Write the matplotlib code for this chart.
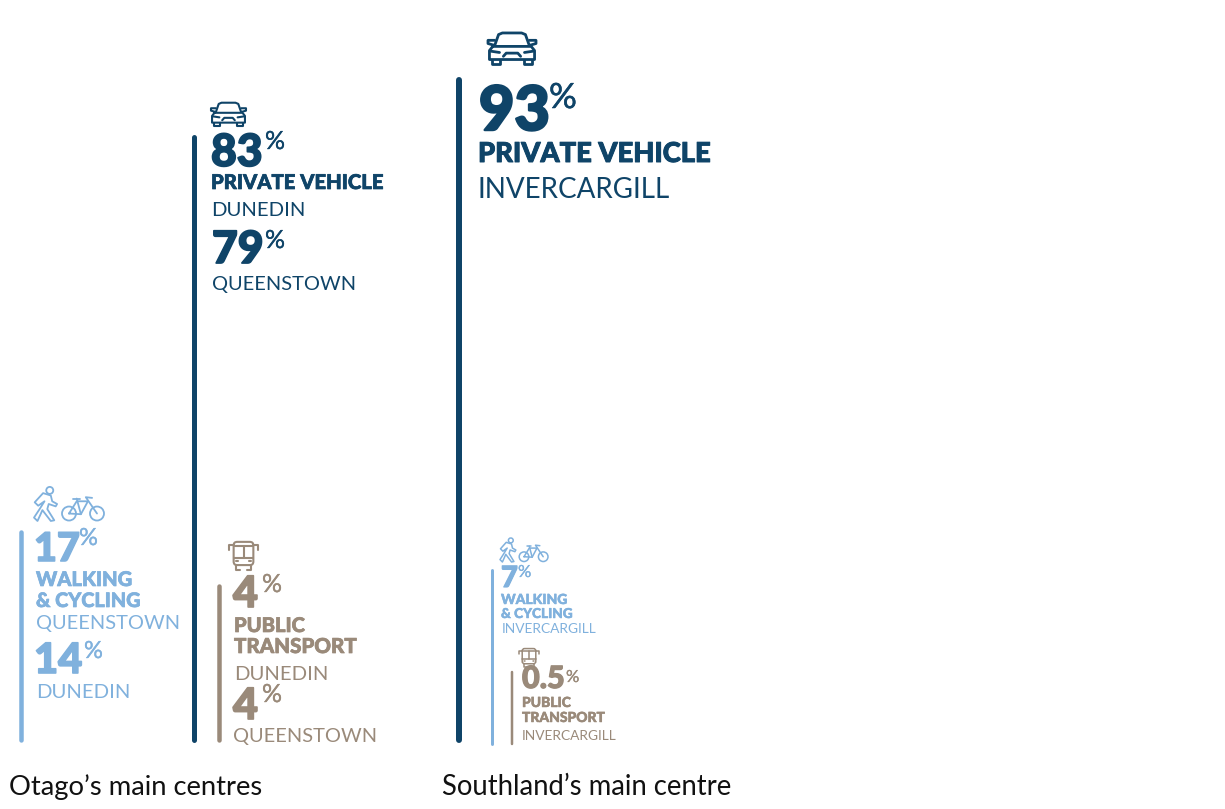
import numpy as np
import matplotlib
matplotlib.use('Agg')
import matplotlib.pyplot as plt
import matplotlib.patheffects as pe
from matplotlib.patches import Circle, FancyBboxPatch, Polygon
from matplotlib.transforms import ScaledTranslation

plt.rcParams['font.family'] = ['Lato', 'DejaVu Sans']

# share of trips by mode, in percent
otago_walk = [17, 14]        # Queenstown, Dunedin
otago_car = [83, 79]         # Dunedin, Queenstown
otago_bus = [4, 4]           # Dunedin, Queenstown
south_car = [93]             # Invercargill
south_walk = [7]
south_bus = [0.5]

captions = ["Otago\u2019s main centres", "Southland\u2019s main centre"]

# the bars are not linear in value, this is the length (pixels) each value gets
scale_values = [0, 0.5, 4, 7, 17, 83, 93, 100]
scale_lengths = [0, 72, 154, 174, 208, 603, 660, 698]

DARK = '#0f4468'
LIGHT = '#80b1dd'
BROWN = '#9a8a7a'

W, H = 1225, 809
fig = plt.figure(figsize=(W / 100, H / 100), dpi=100)

BASE = 740
bars = fig.add_axes([0, (H - BASE) / H, 1, 698 / H])
bars.set_xlim(0, W)
bars.set_yscale('function', functions=(
    lambda v: np.interp(v, scale_values, scale_lengths),
    lambda p: np.interp(p, scale_lengths, scale_values)))
bars.set_ylim(0, 100)
bars.axis('off')

# text and icons go on a plain pixel layer
ax = fig.add_axes([0, 0, 1, 1])
ax.set_xlim(0, W)
ax.set_ylim(H, 0)
ax.axis('off')
ax.patch.set_alpha(0)


def bar(x, value, color, width, drop=0):
    tr = bars.transData + ScaledTranslation(0, -drop / 100, fig.dpi_scale_trans)
    bars.plot([x, x], [0, value], color=color, lw=width * 0.72,
              solid_capstyle='round', transform=tr, clip_on=False)


def txt(x, y, s, size, color, weight='normal', thick=0):
    t = ax.text(x, y, s, fontsize=size, color=color, fontweight=weight,
                ha='left', va='baseline')
    if thick:
        t.set_path_effects([pe.withStroke(linewidth=thick, foreground=color)])


def head(x, y, s, size, color):
    txt(x, y, s, size, color, 'black', thick=size * 0.035)


def num(x, y, value, size, color, px, py, psize):
    txt(x, y, f'{value:g}', size, color, 'black', thick=size * 0.04)
    txt(px, py, '%', psize, color, thick=psize * 0.015)


def line(pts, x, y, w, h, color, lw):
    pts = np.array(pts, dtype=float)
    ax.plot(x + pts[:, 0] * w, y + pts[:, 1] * h, color=color, lw=lw,
            solid_capstyle='round', solid_joinstyle='round')


def car(x, y, w, h, color, lw):
    line([(.14, .42), (.22, .08), (.3, .03), (.7, .03), (.78, .08), (.86, .42)], x, y, w, h, color, lw)
    line([(.1, .45), (.9, .45), (.97, .58), (.97, .86), (.03, .86), (.03, .58), (.1, .45)], x, y, w, h, color, lw)
    line([(.14, .42), (0, .36), (0, .26), (.14, .26)], x, y, w, h, color, lw)
    line([(.86, .42), (1, .36), (1, .26), (.86, .26)], x, y, w, h, color, lw)
    line([(.06, .6), (.24, .64)], x, y, w, h, color, lw)
    line([(.94, .6), (.76, .64)], x, y, w, h, color, lw)
    line([(.32, .76), (.38, .66), (.62, .66), (.68, .76)], x, y, w, h, color, lw)
    line([(.08, .86), (.08, 1), (.26, 1), (.26, .86)], x, y, w, h, color, lw)
    line([(.74, .86), (.74, 1), (.92, 1), (.92, .86)], x, y, w, h, color, lw)


def bus(x, y, w, h, color, lw):
    ax.add_patch(FancyBboxPatch((x + .16 * w, y + .03 * h), .68 * w, .8 * h,
                                boxstyle=f'round,pad=0,rounding_size={.12 * w}',
                                fc='none', ec=color, lw=lw))
    line([(.16, .58), (.84, .58)], x, y, w, h, color, lw)
    line([(.5, .16), (.5, .58)], x, y, w, h, color, lw)
    line([(.16, .16), (.84, .16)], x, y, w, h, color, lw)
    line([(0, .3), (0, .14), (.16, .14)], x, y, w, h, color, lw)
    line([(1, .3), (1, .14), (.84, .14)], x, y, w, h, color, lw)
    line([(.25, .83), (.25, 1), (.38, 1)], x, y, w, h, color, lw)
    line([(.75, .83), (.75, 1), (.62, 1)], x, y, w, h, color, lw)
    line([(.25, .7), (.32, .7)], x, y, w, h, color, lw)
    line([(.68, .7), (.75, .7)], x, y, w, h, color, lw)


def walker_bike(x, y, w, h, color, lw):
    # walker outline on the left, bicycle on the right
    walker = np.array([(.01, .45), (.13, .18), (.24, .25), (.26, .42), (.33, .5),
                       (.31, .57), (.21, .5), (.19, .65), (.29, .98), (.24, 1),
                       (.12, .68), (.09, .82), (.05, 1), (0, .9), (.08, .65),
                       (.15, .42), (.06, .55)])
    ax.add_patch(Polygon(np.c_[x + walker[:, 0] * w, y + walker[:, 1] * h],
                         closed=True, fc='none', ec=color, lw=lw, joinstyle='round'))
    ax.add_patch(Circle((x + .225 * w, y + .1 * h), .05 * w, fc='none', ec=color, lw=lw))
    rb = .1 * w
    ax.add_patch(Circle((x + .5 * w, y + .78 * h), rb, fc='none', ec=color, lw=lw))
    ax.add_patch(Circle((x + .9 * w, y + .78 * h), rb, fc='none', ec=color, lw=lw))
    line([(.5, .78), (.61, .42), (.77, .42), (.67, .8), (.5, .78)], x, y, w, h, color, lw)
    line([(.61, .34), (.67, .8)], x, y, w, h, color, lw)
    line([(.56, .34), (.65, .34)], x, y, w, h, color, lw)
    line([(.9, .78), (.74, .3), (.83, .32)], x, y, w, h, color, lw)


# Otago - walking and cycling
bar(21, otago_walk[0], LIGHT, 4.5)
walker_bike(34, 487, 70, 34, LIGHT, 1.3)
num(34, 561, otago_walk[0], 28.5, LIGHT, 79, 545, 17)
head(36, 586, 'WALKING', 14.5, LIGHT)
head(36, 607, '& CYCLING', 14.3, LIGHT)
txt(36, 629, 'QUEENSTOWN', 14.4, LIGHT)
num(34, 673, otago_walk[1], 30, LIGHT, 84, 658, 17)
txt(36, 698, 'DUNEDIN', 14.6, LIGHT)

# Otago - private vehicle
bar(194, otago_car[0], DARK, 5)
car(211, 102, 35, 24, DARK, 1.5)
num(211, 166, otago_car[0], 32, DARK, 265, 149, 18)
head(211, 189, 'PRIVATE VEHICLE', 14.6, DARK)
txt(211, 216, 'DUNEDIN', 14.6, DARK)
num(212, 263, otago_car[1], 32, DARK, 265, 248, 18)
txt(212, 290, 'QUEENSTOWN', 14.4, DARK)

# Otago - public transport
bar(219, otago_bus[0], BROWN, 4.5)
bus(229, 541, 29, 29, BROWN, 1.5)
num(233, 607, otago_bus[0], 31, BROWN, 262, 592, 18)
head(234, 632, 'PUBLIC', 14.5, BROWN)
head(234, 653, 'TRANSPORT', 14.8, BROWN)
txt(234, 680, 'DUNEDIN', 14.6, BROWN)
num(233, 719, otago_bus[1], 31, BROWN, 262, 702, 18)
txt(233, 742, 'QUEENSTOWN', 14.4, BROWN)

# Southland - private vehicle
bar(459, south_car[0], DARK, 6)
car(488, 32, 48, 32, DARK, 2)
num(479, 130, south_car[0], 44, DARK, 549, 108, 25)
head(478, 162, 'PRIVATE VEHICLE', 19.7, DARK)
txt(478, 198, 'INVERCARGILL', 20, DARK)

# Southland - walking and cycling
bar(492, south_walk[0], LIGHT, 3, drop=4)
walker_bike(500, 538, 48, 24, LIGHT, 1.1)
num(501, 587, south_walk[0], 21, LIGHT, 518, 577, 12)
head(501, 604, 'WALKING', 10, LIGHT)
head(501, 618, '& CYCLING', 9.8, LIGHT)
txt(502, 633, 'INVERCARGILL', 9.9, LIGHT)

# Southland - public transport
bar(512, south_bus[0], BROWN, 2.5, drop=4)
bus(519, 648, 20, 19, BROWN, 1.1)
num(522, 688, south_bus[0], 22, BROWN, 566, 682, 12)
head(522, 707, 'PUBLIC', 10, BROWN)
head(522, 722, 'TRANSPORT', 10, BROWN)
txt(522, 740, 'INVERCARGILL', 9.9, BROWN)

txt(9, 795, captions[0], 19.7, '#111111')
txt(442, 795, captions[1], 19.8, '#111111')

fig.savefig('out.png', dpi=100, facecolor='white')
